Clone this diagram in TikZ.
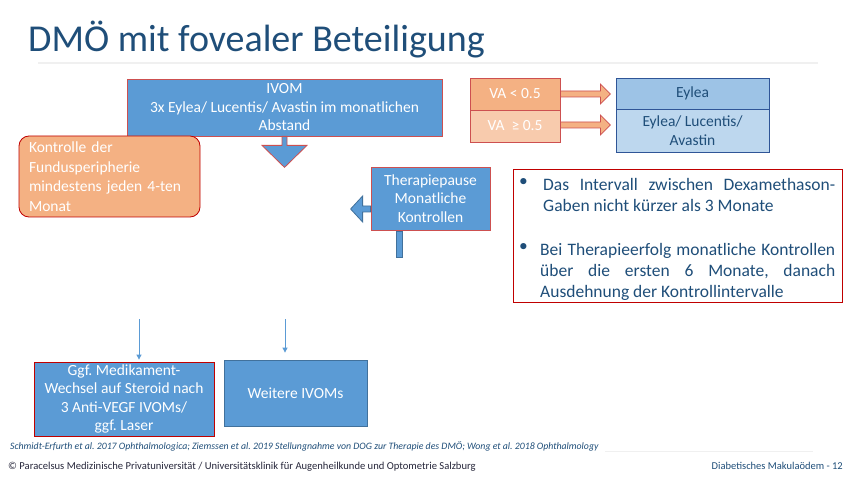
\documentclass[tikz,border=0pt]{standalone}
\usepackage{fontspec}
\setmainfont{Carlito}
\usepackage{tikz}
\usetikzlibrary{calc,arrows.meta}
\usepackage{xcolor}
\definecolor{boxblue}{RGB}{91,155,213}
\definecolor{lineblue}{RGB}{65,113,156}
\definecolor{redline}{RGB}{192,0,0}
\definecolor{softred}{RGB}{205,80,80}
\definecolor{orangefill}{RGB}{244,177,131}
\definecolor{paleorange}{RGB}{248,203,173}
\definecolor{lightblue}{RGB}{157,195,230}
\definecolor{paleblue}{RGB}{189,215,238}
\definecolor{eylealine}{RGB}{47,85,151}
\definecolor{darkblue}{RGB}{31,78,121}
\definecolor{footgray}{RGB}{38,38,58}
\frenchspacing

\begin{document}
\begin{tikzpicture}[x=1pt,y=-1pt]
        \tikzstyle{blue box}=[rectangle,draw=softred,line width=0.8pt,fill=boxblue,text=white,inner sep=0,align=center,font=\fontsize{15.5}{18.5}\selectfont]
        \tikzstyle{orange box}=[blue box,fill=orangefill]
        \tikzstyle{eylea box}=[blue box,draw=eylealine,text=darkblue,font=\fontsize{15.5}{19}\selectfont]
        \tikzstyle{note text}=[inner sep=0,text=darkblue,align=justify,font=\fontsize{17.5}{21}\selectfont]
        \tikzstyle{block arrow}=[draw=softred,line width=0.8pt,fill=boxblue,line join=miter]
        \tikzstyle{thin arrow}=[draw=boxblue,line width=0.8pt,-{Triangle[length=5pt,width=5pt]}]

        \fill[white] (0,0) rectangle (850,478);
        \useasboundingbox (0,0) rectangle (850,478);

        \node(title)[anchor=base west,inner sep=0,text=darkblue,font=\fontsize{38}{44}\selectfont] at (28,52) {DMÖ mit fovealer Beteiligung};
        \draw[black!6,line width=1.5pt] (38,63) -- (818,63);

        \node(ivom)[blue box,minimum width=315,minimum height=57] at (284.5,107.5) {IVOM\\3x Eylea/ Lucentis/ Avastin im monatlichen\\Abstand};
        \node(kontrolle)[orange box,draw=redline,rounded corners=10,align=left,text width=161,inner xsep=10,minimum height=81,font=\fontsize{15.5}{19.5}\selectfont] at (109.5,176.5) {Kontrolle der\\Fundusperipherie\\mindestens jeden 4-ten\\Monat};
        \draw[block arrow] ($(ivom.south)+(-2.5,0)$) -- ++(0,9) -- ++(-20,0) -- ++(22.5,22) -- ++(22.5,-22) -- ++(-20,0) -- ++(0,-9) -- cycle;

        \node(pause)[blue box,minimum width=119,minimum height=63] at (430.5,198.5) {Therapiepause\\Monatliche\\Kontrollen};
        \draw[block arrow,draw=lineblue] ($(pause.west)+(0,7.5)$) -- ++(-8,0) -- ++(0,-10) -- ++(-12,13) -- ++(12,13) -- ++(0,-10) -- ++(8,0) -- cycle;
        \draw[block arrow,draw=lineblue] ($(pause.south)+(-34.5,0.5)$) rectangle ++(6,26);

        \node(va1)[orange box,minimum width=90,minimum height=32] at (515,94) {VA < 0.5};
        \node(va2)[orange box,fill=paleorange,minimum width=90,minimum height=32] at (515,126) {VA\ \ ≥ 0.5};
        \node(ey1)[eylea box,fill=lightblue,minimum width=153,minimum height=31] at (692.5,93.5) {Eylea};
        \node(ey2)[eylea box,fill=paleblue,minimum width=153,minimum height=43] at (692.5,130.5) {Eylea/ Lucentis/\\Avastin};
        \draw[block arrow,fill=orangefill] ($(va1.east)+(0,-3)$) -- ++(40,0) -- ++(0,-7) -- ++(10,10) -- ++(-10,10) -- ++(0,-7) -- ++(-40,0) -- cycle;
        \draw[block arrow,fill=orangefill] ($(va2.east)+(0,-4)$) -- ++(40,0) -- ++(0,-7) -- ++(10,10) -- ++(-10,10) -- ++(0,-7) -- ++(-40,0) -- cycle;

        \node(note)[rectangle,draw=redline,line width=0.8pt,fill=white,minimum width=329,minimum height=133] at (677.5,235.5) {};
        \node(b1)[note text,anchor=north west] at (519,178) {•};
        \node(n1)[note text,text width=292,anchor=north west] at (543,178) {Das Intervall zwischen Dexamethason-\break Gaben nicht kürzer als 3 Monate};
        \node(b2)[note text,anchor=north west] at (519,243) {•};
        \node(n2)[note text,text width=295,anchor=north west] at (540,243) {Bei Therapieerfolg monatliche Kontrollen\break über die ersten 6 Monate, danach\break Ausdehnung der Kontrollintervalle};

        \node(ggf)[blue box,draw=redline,minimum width=180,minimum height=74] at (124,399) {Ggf. Medikament-\\Wechsel auf Steroid nach\\3 Anti-VEGF IVOMs/\\ggf. Laser};
        \node(weitere)[blue box,draw=lineblue,minimum width=143,minimum height=66] at (295.5,393) {Weitere IVOMs};
        \coordinate(s1) at (139,319);
        \coordinate(s2) at (285,319);
        \draw[thin arrow,shorten >=2] (s1) -- (s1 |- ggf.north);
        \draw[thin arrow,shorten >=7] (s2) -- (s2 |- weitere.north);

        \node(cite)[anchor=base west,inner sep=0,text=darkblue,font=\fontsize{9.8}{12}\selectfont\itshape] at (10,449) {Schmidt-Erfurth et al. 2017 Ophthalmologica; Ziemssen et al. 2019 Stellungnahme von DOG zur Therapie des DMÖ; Wong et al. 2018 Ophthalmology};
        \draw[black!6,line width=1pt] (605,451) -- (813,451);
        \node(footer)[anchor=base west,inner sep=0,text=footgray,font=\fontsize{10.6}{12}\selectfont] at (8,469) {© Paracelsus Medizinische Privatuniversität / Universitätsklinik für Augenheilkunde und Optometrie Salzburg};
        \node(page)[anchor=base east,inner sep=0,text=darkblue,font=\fontsize{10.5}{12}\selectfont] at (843,469) {Diabetisches Makulaödem - 12};
    \end{tikzpicture}
\end{document}
